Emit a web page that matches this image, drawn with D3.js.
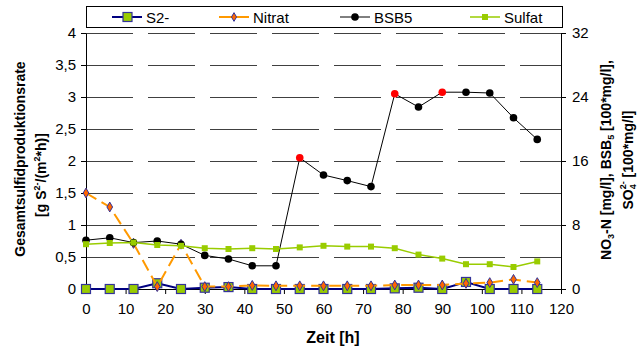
<!DOCTYPE html>
<html>
<head>
<meta charset="utf-8">
<script src="https://cdn.jsdelivr.net/npm/d3@7"></script>
<style>
  body { margin: 0; background: #fff; }
  svg { font-family: "Liberation Sans", Arial, sans-serif; }
</style>
</head>
<body>
<svg id="chart" width="641" height="352"></svg>
<script>
// time points [h]
const zeit = [0, 6, 12, 18, 24, 30, 36, 42, 48, 54, 60, 66, 72, 78, 84, 90, 96, 102, 108, 114];

// left axis: g S2-/(m2*h)
const s2 = [0, 0, 0, 0.09, 0, 0.02, 0.03, 0, 0, 0, 0, 0, 0, 0.01, 0.02, 0, 0.11, 0, 0, 0];

// right axis
const nitrat = [12, 10.25, 5.7, 0.3, 5.6, 0.3, 0.3, 0.45, 0.4, 0.4, 0.4, 0.4, 0.4, 0.5, 0.5, 0.5, 0.7, 0.8, 1.2, 0.8];
const bsb5 = [6.1, 6.4, 5.8, 6.0, 5.6, 4.2, 3.75, 2.9, 2.9, 16.4, 14.25, 13.55, 12.8, 24.4, 22.75, 24.6, 24.6, 24.5, 21.4, 18.7];
const bsb5Red = [54, 78, 90];
const sulfat = [5.6, 5.75, 5.8, 5.5, 5.4, 5.1, 5.0, 5.1, 5.0, 5.2, 5.4, 5.3, 5.3, 5.1, 4.3, 3.8, 3.1, 3.1, 2.75, 3.45];

const xTicks = d3.range(0, 121, 10);
const yLeftTicks = d3.range(0, 4.01, 0.5);
const yRightTicks = [0, 8, 16, 24, 32];
const legendNames = ["S2-", "Nitrat", "BSB5", "Sulfat"];

const margin = { left: 86, top: 33, right: 80, bottom: 63 },
  width = 641,
  height = 352,
  iwidth = width - margin.left - margin.right,
  iheight = height - margin.top - margin.bottom;

const x = d3.scaleLinear().domain([0, 120]).range([0, iwidth]),
  yL = d3.scaleLinear().domain([0, 4]).range([iheight, 0]),
  yR = d3.scaleLinear().domain([0, 32]).range([iheight, 0]);

const fmt = (d) => String(d).replace(".", ",");

const svg = d3.select("#chart");
const g = svg.append("g").attr("transform", `translate(${margin.left}, ${margin.top})`);

// dashed gridlines
g.append("g")
  .selectAll("line")
  .data(yLeftTicks.filter((d) => d > 0))
  .join("line")
  .attr("x1", 0)
  .attr("x2", iwidth)
  .attr("y1", (d) => Math.round(yL(d)) + 0.5)
  .attr("y2", (d) => Math.round(yL(d)) + 0.5)
  .attr("stroke", "#404040")
  .attr("stroke-dasharray", "47,15");

// axes
const axisStyle = (sel) => {
  sel.select(".domain").attr("stroke", "#000");
  sel.selectAll(".tick line").attr("stroke", "#000");
  sel.selectAll("text").attr("font-size", 15).attr("fill", "#000").attr("font-family", "Liberation Sans, Arial, sans-serif");
};

g.append("g")
  .attr("transform", `translate(0, ${iheight})`)
  .call(d3.axisBottom(x).tickValues(xTicks).tickSize(5).tickSizeOuter(0).tickFormat(fmt))
  .call(axisStyle)
  .call((a) => a.selectAll("text").attr("dy", "1.15em"));

g.append("g")
  .call(d3.axisLeft(yL).tickValues(yLeftTicks).tickSize(5).tickSizeOuter(0).tickFormat(fmt))
  .call(axisStyle)
  .call((a) => a.selectAll("text").attr("x", -10));

g.append("g")
  .attr("transform", `translate(${iwidth}, 0)`)
  .call(d3.axisRight(yR).tickValues(yRightTicks).tickSize(5).tickSizeOuter(0))
  .call(axisStyle)
  .call((a) => a.selectAll("text").attr("x", 11));

// series
const pts = (vals) => zeit.map((t, i) => [t, vals[i]]);

const lineL = d3.line().x((d) => x(d[0])).y((d) => yL(d[1]));
const lineR = d3.line().x((d) => x(d[0])).y((d) => yR(d[1]));

const diamond = d3.symbol().type(d3.symbolDiamond).size(28);

// S2-
g.append("path")
  .attr("d", lineL(pts(s2)))
  .attr("fill", "none")
  .attr("stroke", "#000080")
  .attr("stroke-width", 2);
g.append("g")
  .selectAll("rect")
  .data(pts(s2))
  .join("rect")
  .attr("x", (d) => x(d[0]) - 4.5)
  .attr("y", (d) => yL(d[1]) - 4.5)
  .attr("width", 9)
  .attr("height", 9)
  .attr("fill", "#99cc00")
  .attr("stroke", "#333399")
  .attr("stroke-width", 1.2);

// Nitrat
g.append("path")
  .attr("d", lineR(pts(nitrat)))
  .attr("fill", "none")
  .attr("stroke", "#ff9900")
  .attr("stroke-width", 2)
  .attr("stroke-dasharray", "12,6");
g.append("g")
  .selectAll("path")
  .data(pts(nitrat))
  .join("path")
  .attr("d", diamond)
  .attr("transform", (d) => `translate(${x(d[0])}, ${yR(d[1])})`)
  .attr("fill", "#ff6600")
  .attr("stroke", "#333399")
  .attr("stroke-width", 1);

// BSB5
g.append("path")
  .attr("d", lineR(pts(bsb5)))
  .attr("fill", "none")
  .attr("stroke", "#000")
  .attr("stroke-width", 1);
g.append("g")
  .selectAll("circle")
  .data(pts(bsb5))
  .join("circle")
  .attr("cx", (d) => x(d[0]))
  .attr("cy", (d) => yR(d[1]))
  .attr("r", 3.8)
  .attr("fill", (d) => (bsb5Red.includes(d[0]) ? "#ff0000" : "#000"));

// Sulfat
g.append("path")
  .attr("d", lineR(pts(sulfat)))
  .attr("fill", "none")
  .attr("stroke", "#99cc00")
  .attr("stroke-width", 1.5);
g.append("g")
  .selectAll("rect")
  .data(pts(sulfat))
  .join("rect")
  .attr("x", (d) => x(d[0]) - 3)
  .attr("y", (d) => yR(d[1]) - 3)
  .attr("width", 6)
  .attr("height", 6)
  .attr("fill", "#99cc00");

// legend
const lg = svg.append("g").attr("transform", "translate(86, 6)");
lg.append("rect")
  .attr("x", 0.5)
  .attr("y", 0.5)
  .attr("width", 476)
  .attr("height", 21)
  .attr("fill", "#fff")
  .attr("stroke", "#000");

const legX = [26, 133, 254, 384];
const item = lg.selectAll(".item")
  .data(legendNames)
  .join("g")
  .attr("class", "item")
  .attr("transform", (d, i) => `translate(${legX[i]}, 11)`);

item.append("line")
  .attr("x1", 0)
  .attr("x2", 30)
  .attr("stroke", (d, i) => ["#000080", "#ff9900", "#000", "#99cc00"][i])
  .attr("stroke-width", (d, i) => [2, 2, 1, 1.5][i]);

item.filter((d, i) => i === 0).append("rect")
  .attr("x", 11).attr("y", -4.5).attr("width", 9).attr("height", 9)
  .attr("fill", "#99cc00").attr("stroke", "#333399").attr("stroke-width", 1.2);
item.filter((d, i) => i === 1).append("path")
  .attr("d", d3.symbol().type(d3.symbolDiamond).size(22))
  .attr("transform", "translate(15, 0)")
  .attr("fill", "#ff6600").attr("stroke", "#333399");
item.filter((d, i) => i === 2).append("circle")
  .attr("cx", 15).attr("r", 3.8).attr("fill", "#000");
item.filter((d, i) => i === 3).append("rect")
  .attr("x", 12).attr("y", -3).attr("width", 6).attr("height", 6).attr("fill", "#99cc00");

item.append("text")
  .attr("x", 34)
  .attr("y", 5.5)
  .attr("font-size", 15)
  .text((d) => d);

// axis titles
svg.append("text")
  .attr("x", 333)
  .attr("y", 343)
  .attr("text-anchor", "middle")
  .attr("font-size", 16)
  .attr("font-weight", "bold")
  .text("Zeit [h]");

const leftTitle = svg.append("g").attr("font-size", 14).attr("font-weight", "bold").attr("text-anchor", "middle");
leftTitle.append("text")
  .attr("transform", "translate(25, 159) rotate(-90)")
  .text("Gesamtsulfidproduktionsrate");
const lt2 = leftTitle.append("text").attr("transform", "translate(46, 175) rotate(-90)");
lt2.append("tspan").text("[g S");
lt2.append("tspan").attr("font-size", 9).attr("dy", -6).text("2-");
lt2.append("tspan").attr("dy", 6).text("/(m");
lt2.append("tspan").attr("font-size", 9).attr("dy", -6).text("2");
lt2.append("tspan").attr("dy", 6).text("*h)]");

const rightTitle = svg.append("g").attr("font-size", 14).attr("font-weight", "bold").attr("text-anchor", "middle");
const rt1 = rightTitle.append("text").attr("transform", "translate(611, 160) rotate(-90)");
rt1.append("tspan").text("NO");
rt1.append("tspan").attr("font-size", 9).attr("dy", 3).text("3");
rt1.append("tspan").attr("dy", -3).text("-N [mg/l], BSB");
rt1.append("tspan").attr("font-size", 9).attr("dy", 3).text("5");
rt1.append("tspan").attr("dy", -3).text(" [100*mg/l],");
const rt2 = rightTitle.append("text").attr("transform", "translate(633, 160) rotate(-90)");
rt2.append("tspan").text("SO");
rt2.append("tspan").attr("font-size", 9).attr("dy", 3).text("4");
rt2.append("tspan").attr("font-size", 9).attr("dx", -5).attr("dy", -10).text("2-");
rt2.append("tspan").attr("dy", 7).text(" [100*mg/l]");
</script>
</body>
</html>
